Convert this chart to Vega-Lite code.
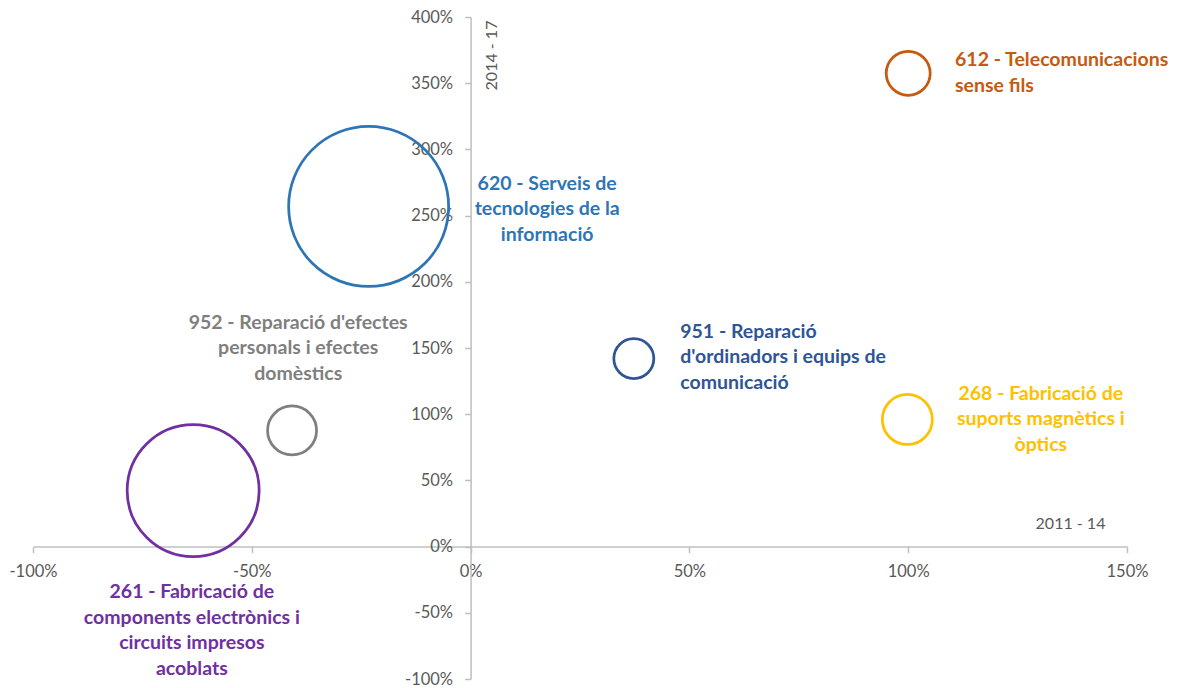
{
  "$schema": "https://vega.github.io/schema/vega-lite/v6.json",
  "width": 1094,
  "height": 662,
  "autosize": {"type": "none"},
  "padding": {"left": 33, "top": 17, "right": 50, "bottom": 9},
  "background": "white",
  "config": {"view": {"stroke": null}, "font": "Lato"},
  "datasets": {
    "bombolles": [
      {"codi": "612", "var_2011_14": 100, "var_2014_17": 357.5, "valor": 1936},
      {"codi": "620", "var_2011_14": -23.3, "var_2014_17": 256.9, "valor": 25600},
      {"codi": "951", "var_2011_14": 37.3, "var_2014_17": 142, "valor": 1600},
      {"codi": "268", "var_2011_14": 99.8, "var_2014_17": 96, "valor": 2500},
      {"codi": "952", "var_2011_14": -40.8, "var_2014_17": 87.7, "valor": 2401},
      {"codi": "261", "var_2011_14": -63.4, "var_2014_17": 42.3, "valor": 17424}
    ],
    "etiquetes": [
      {"codi": "612", "ex": 110.7, "ey": 367.5, "text": "612 - Telecomunicacions\nsense fils"},
      {"codi": "951", "ex": 47.9, "ey": 162.1, "text": "951 - Reparació\nd'ordinadors i equips de\ncomunicació"},
      {"codi": "620", "ex": 17.5, "ey": 273.9, "text": "620 - Serveis de\ntecnologies de la\ninformació"},
      {"codi": "268", "ex": 130.3, "ey": 115.3, "text": "268 - Fabricació de\nsuports magnètics i\nòptics"},
      {"codi": "952", "ex": -39.4, "ey": 168.9, "text": "952 - Reparació d'efectes\npersonals i efectes\ndomèstics"},
      {"codi": "261", "ex": -63.7, "ey": -34.3, "text": "261 - Fabricació de\ncomponents electrònics i\ncircuits impresos\nacoblats"}
    ]
  },
  "layer": [
    {
      "data": {"name": "bombolles"},
      "mark": {"type": "point", "shape": "circle", "filled": false, "strokeWidth": 2.75, "opacity": 1},
      "encoding": {
        "x": {
          "field": "var_2011_14", "type": "quantitative",
          "scale": {"domain": [-100, 150], "nice": false, "zero": false},
          "axis": {
            "title": "2011 - 14",
            "values": [-100, -50, 0, 50, 100, 150],
            "labelExpr": "datum.value + '%'",
            "grid": false,
            "offset": {"expr": "scale('y', 0) - height"},
            "domainColor": "#BFBFBF", "domainWidth": 1.5,
            "tickColor": "#BFBFBF", "tickWidth": 1.5, "tickSize": 6,
            "labelColor": "#595959", "labelFontSize": 16.5, "labelFont": "Lato",
            "labelPadding": 11, "labelOverlap": false, "labelFlush": false,
            "titleColor": "#595959", "titleFontSize": 16, "titleFontWeight": "normal", "titleFont": "Lato",
            "titleX": 1037, "titleY": -23, "titleAlign": "center", "titleBaseline": "middle", "titleAngle": 0
          }
        },
        "y": {
          "field": "var_2014_17", "type": "quantitative",
          "scale": {"domain": [-100, 400], "nice": false, "zero": false},
          "axis": {
            "title": "2014 - 17",
            "values": [-100, -50, 0, 50, 100, 150, 200, 250, 300, 350, 400],
            "labelExpr": "datum.value + '%'",
            "grid": false,
            "offset": {"expr": "-scale('x', 0)"},
            "domainColor": "#BFBFBF", "domainWidth": 1.5,
            "tickColor": "#BFBFBF", "tickWidth": 1.5, "tickSize": 6,
            "labelColor": "#595959", "labelFontSize": 16.5, "labelFont": "Lato",
            "labelPadding": 12, "labelOverlap": false, "labelFlush": false,
            "titleColor": "#595959", "titleFontSize": 16, "titleFontWeight": "normal", "titleFont": "Lato",
            "titleX": 21, "titleY": 38, "titleAlign": "center", "titleBaseline": "middle", "titleAngle": 270
          }
        },
        "size": {"field": "valor", "type": "quantitative", "scale": {"domain": [0, 25600], "range": [0, 25600], "zero": true}, "legend": null},
        "color": {
          "field": "codi", "type": "nominal",
          "scale": {"domain": ["612", "620", "951", "268", "952", "261"], "range": ["#C55A11", "#2E75B6", "#2F5597", "#FFC000", "#7F7F7F", "#7030A0"]},
          "legend": null
        }
      }
    },
    {
      "data": {"name": "etiquetes"},
      "transform": [{"filter": "datum.codi === '612' || datum.codi === '951'"}],
      "mark": {"type": "text", "align": "left", "baseline": "middle", "font": "Lato", "fontWeight": "bold", "fontSize": 19.5, "lineHeight": 25.5, "lineBreak": "\n"},
      "encoding": {
        "x": {"field": "ex", "type": "quantitative"},
        "y": {"field": "ey", "type": "quantitative"},
        "text": {"field": "text"},
        "color": {"field": "codi", "type": "nominal", "legend": null}
      }
    },
    {
      "data": {"name": "etiquetes"},
      "transform": [{"filter": "datum.codi !== '612' && datum.codi !== '951'"}],
      "mark": {"type": "text", "align": "center", "baseline": "middle", "font": "Lato", "fontWeight": "bold", "fontSize": 19.5, "lineHeight": 25.5, "lineBreak": "\n"},
      "encoding": {
        "x": {"field": "ex", "type": "quantitative"},
        "y": {"field": "ey", "type": "quantitative"},
        "text": {"field": "text"},
        "color": {"field": "codi", "type": "nominal", "legend": null}
      }
    }
  ]
}
